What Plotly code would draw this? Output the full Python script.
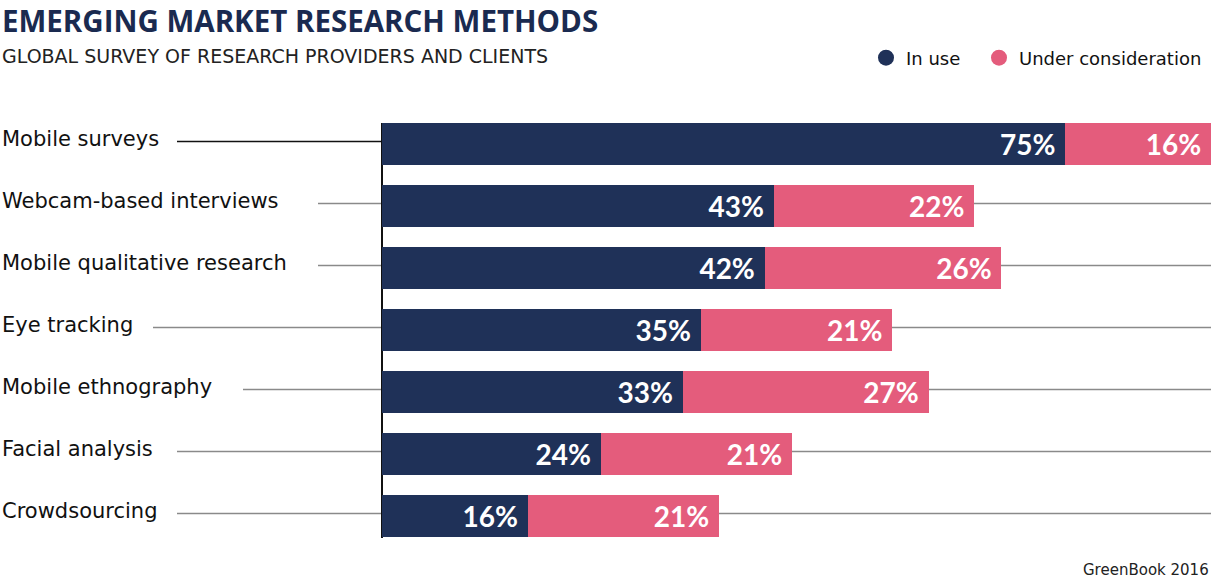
import plotly.graph_objects as go

categories = ["Mobile surveys", "Webcam-based interviews", "Mobile qualitative research",
              "Eye tracking", "Mobile ethnography", "Facial analysis", "Crowdsourcing"]
in_use = [75, 43, 42, 35, 33, 24, 16]
under_consideration = [16, 22, 26, 21, 27, 21, 21]
series_names = ["In use", "Under consideration"]
colors = ["#1f3158", "#e45c7c"]

title = "EMERGING MARKET RESEARCH METHODS"
subtitle = "GLOBAL SURVEY OF RESEARCH PROVIDERS AND CLIENTS"
source = "GreenBook 2016"

W, H = 1213, 584
L, R, T, B = 382, 2, 113, 37
pw = W - L - R
ph = H - T - B

def px_x(px):
    return (px - L) / pw

def px_y(py):
    return (H - B - py) / ph

FONT = "DejaVu Sans"

fig = go.Figure()
legend_ids = ["legend", "legend2"]
for name, vals, col, lg in zip(series_names, [in_use, under_consideration], colors, legend_ids):
    fig.add_trace(go.Bar(
        y=categories, x=vals, name=name, orientation="h",
        marker=dict(color=col, line=dict(width=0)),
        texttemplate="%{x}%\u00a0", textposition="inside", insidetextanchor="end",
        textangle=0, constraintext="none",
        textfont=dict(color="white", size=28, family="Lato", weight="bold"),
        showlegend=False, hoverinfo="skip",
    ))
    fig.add_trace(go.Scatter(
        x=[None], y=[None], mode="markers", name=name, legend=lg,
        marker=dict(color=col, size=20, symbol="circle"),
        showlegend=True,
    ))

line_start_px = [177, 318, 318, 153, 243, 177, 177]
shapes = []
for i, (cat, sp) in enumerate(zip(categories, line_start_px)):
    shapes.append(dict(type="line", xref="paper", yref="y",
                       x0=px_x(sp), x1=1, y0=i - 0.04, y1=i - 0.04,
                       line=dict(color="#111111" if i == 0 else "#8a8a8a", width=1.5),
                       layer="below"))
shapes.append(dict(type="line", xref="paper", yref="paper",
                   x0=px_x(382), x1=px_x(382), y0=px_y(538), y1=px_y(123),
                   line=dict(color="#111111", width=2), layer="below"))

annotations = []
for i, cat in enumerate(categories):
    annotations.append(dict(text=cat, xref="paper", yref="y", x=px_x(0), y=i,
                            xanchor="left", yanchor="middle", showarrow=False, yshift=5,
                            font=dict(size=21, color="#111111", family=FONT)))
annotations += [
    dict(text="<b>" + title + "</b>", xref="paper", yref="paper", x=px_x(0), y=px_y(20),
         xanchor="left", yanchor="middle", showarrow=False,
         font=dict(size=29.5, color="#1a2a50", family="Open Sans")),
    dict(text=subtitle, xref="paper", yref="paper", x=px_x(0), y=px_y(56),
         xanchor="left", yanchor="middle", showarrow=False,
         font=dict(size=19, color="#222222", family=FONT)),
    dict(text=source, xref="paper", yref="paper", x=1, y=px_y(570),
         xanchor="right", yanchor="middle", showarrow=False,
         font=dict(size=15, color="#222222", family=FONT)),
]

legend_font = dict(size=18, color="#111111", family=FONT)
fig.update_layout(
    width=W, height=H,
    margin=dict(l=L, r=R, t=T, b=B, pad=0),
    barmode="stack", bargap=0.32,
    paper_bgcolor="white", plot_bgcolor="white",
    xaxis=dict(range=[0, 91], visible=False, fixedrange=True),
    yaxis=dict(categoryorder="array", categoryarray=categories, autorange="reversed",
               showticklabels=False, showgrid=False, zeroline=False, showline=False),
    legend=dict(orientation="h", x=px_x(866), xanchor="left", y=px_y(58), yanchor="middle",
                font=legend_font, itemwidth=30, bgcolor="rgba(0,0,0,0)"),
    legend2=dict(orientation="h", x=px_x(1207), xanchor="right", y=px_y(58), yanchor="middle",
                 font=legend_font, itemwidth=30, bgcolor="rgba(0,0,0,0)"),
    shapes=shapes, annotations=annotations,
    font=dict(family=FONT),
)

fig.write_html("out.html", config={"displayModeBar": False},
               post_script="document.body.style.margin='0';document.body.style.overflow='hidden';")
